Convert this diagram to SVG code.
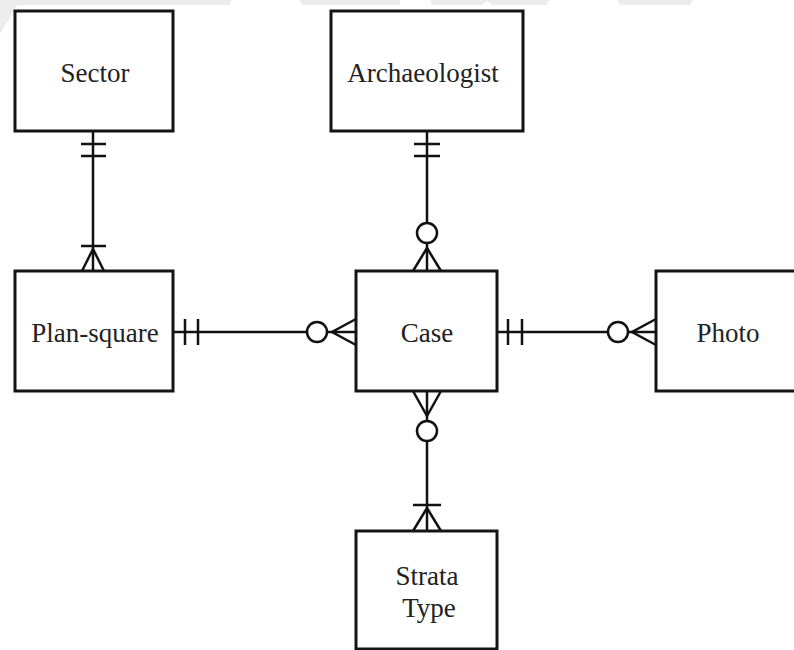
<svg xmlns="http://www.w3.org/2000/svg" width="794" height="650" viewBox="0 0 794 650">
  <style>
    .entity rect { fill: #ffffff; stroke: #141414; stroke-width: 3; }
    .entity text { font-family: "Liberation Serif", "Times New Roman", serif; font-size: 27px; fill: #222222; text-anchor: middle; }
    .rel line, .rel path { stroke: #111111; stroke-width: 2.5; fill: none; }
    .rel circle { stroke: #111111; stroke-width: 2.5; fill: #ffffff; }
    .mark { fill: #ececec; }
  </style>

  <rect width="794" height="650" fill="#ffffff"/>

  <!-- faint background marks along the top edge -->
  <g id="background">
    <polygon class="mark" points="0,0 20,0 0,34"/>
    <polygon class="mark" points="10,0 232,0 229,5 12,5"/>
    <polygon class="mark" points="300,0 400,0 400,5 302,5"/>
    <polygon class="mark" points="400,0 550,0 546,5 492,5 487,1 482,5 432,5 430,0"/>
    <polygon class="mark" points="617,0 693,0 690,5 620,5"/>
  </g>

  <!-- relationship lines with crow's foot ends -->
  <g id="connectors" class="rel">
    <!-- Sector (one) to Plan-square (one or many) -->
    <g id="sector-plansquare">
      <line x1="93" y1="131" x2="93" y2="271"/>
      <line x1="81" y1="144" x2="106" y2="144"/>
      <line x1="81" y1="156" x2="106" y2="156"/>
      <line x1="81" y1="246" x2="106" y2="246"/>
      <path d="M82,271 L93,249 L104,271"/>
    </g>
    <!-- Archaeologist (one) to Case (zero or many) -->
    <g id="archaeologist-case">
      <line x1="427" y1="131" x2="427" y2="271"/>
      <line x1="414" y1="144" x2="440" y2="144"/>
      <line x1="414" y1="156" x2="440" y2="156"/>
      <path d="M413,271 L427,248 L441,271"/>
      <circle cx="427" cy="233" r="10"/>
    </g>
    <!-- Plan-square (one) to Case (zero or many) -->
    <g id="plansquare-case">
      <line x1="173" y1="332" x2="356" y2="332"/>
      <line x1="185" y1="319" x2="185" y2="345"/>
      <line x1="198" y1="319" x2="198" y2="345"/>
      <path d="M356,319 L332,332 L356,345"/>
      <circle cx="317" cy="332" r="10"/>
    </g>
    <!-- Case (one) to Photo (zero or many) -->
    <g id="case-photo">
      <line x1="497" y1="332" x2="656" y2="332"/>
      <line x1="508" y1="319" x2="508" y2="345"/>
      <line x1="522" y1="319" x2="522" y2="345"/>
      <path d="M656,319 L632,332 L656,345"/>
      <circle cx="618" cy="332" r="10"/>
    </g>
    <!-- Case (zero or many) to Strata Type (one or many) -->
    <g id="case-stratatype">
      <line x1="427" y1="391" x2="427" y2="531"/>
      <path d="M413,391 L427,416 L441,391"/>
      <circle cx="427" cy="431" r="10"/>
      <line x1="413" y1="505" x2="441" y2="505"/>
      <path d="M413,531 L427,508 L441,531"/>
    </g>
  </g>

  <!-- entities -->
  <g id="sector" class="entity">
    <rect x="15" y="11" width="158" height="120"/>
    <text x="95" y="82">Sector</text>
  </g>
  <g id="archaeologist" class="entity">
    <rect x="331" y="11" width="192" height="120"/>
    <text x="423" y="82">Archaeologist</text>
  </g>
  <g id="plan-square" class="entity">
    <rect x="15" y="271" width="158" height="120"/>
    <text x="95" y="342">Plan-square</text>
  </g>
  <g id="case" class="entity">
    <rect x="356" y="271" width="141" height="120"/>
    <text x="427" y="342">Case</text>
  </g>
  <g id="photo" class="entity">
    <rect x="656" y="271" width="145" height="120"/>
    <text x="728" y="342">Photo</text>
  </g>
  <g id="strata-type" class="entity">
    <rect x="356" y="531" width="141" height="118"/>
    <text x="427" y="585">Strata</text>
    <text x="429" y="617">Type</text>
  </g>
</svg>
